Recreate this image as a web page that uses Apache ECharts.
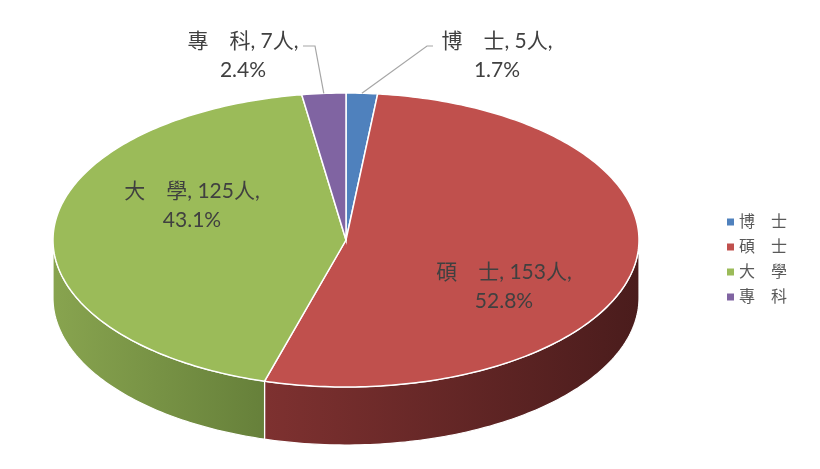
<!DOCTYPE html>
<html>
<head>
<meta charset="utf-8">
<script src="https://cdn.jsdelivr.net/npm/echarts@6/dist/echarts.min.js"></script>
<style>
    html, body { margin: 0; padding: 0; background: #fff; }
    #main { width: 820px; height: 469px; }
</style>
</head>
<body>
<div id="main"></div>
<script>
var names = ['博　士', '碩　士', '大　學', '專　科'];
var counts = [5, 153, 125, 7];
var colors = ['#4F81BD', '#C0504D', '#9BBB59', '#8064A2'];
var sideColors = [['#3F6797', '#2A4568'], ['#7E3130', '#4A1C1C'], ['#88A44F', '#66803A'], ['#66508A', '#443660']];

var total = 0;
for (var k = 0; k < counts.length; k++) total += counts[k];

// layout of the tilted pie (pixels)
var cx = 346, cy = 240, rx = 293, ry = 147, depth = 58;
// label centres, and leader start / elbow for the outside ones
var labelAt = [[497, 56], [504, 287], [192, 206], [243, 56]];
var leaderAt = [[[433, 46], [427, 46]], null, null, [[303, 46], [315, 46]]];

var font = 'Lato, "Noto Sans CJK TC", sans-serif';

function pt(a, dy) {
    return [cx + rx * Math.sin(a), cy - ry * Math.cos(a) + dy];
}

function arc(a0, a1, dy) {
    var pts = [];
    var n = Math.max(2, Math.ceil((a1 - a0) / (Math.PI / 180)));
    for (var j = 0; j <= n; j++) {
        pts.push(pt(a0 + (a1 - a0) * j / n, dy));
    }
    return pts;
}

function renderSlice(params, api) {
    var i = params.seriesIndex;
    var before = 0;
    for (var j = 0; j < i; j++) before += counts[j];
    var a0 = before / total * Math.PI * 2;
    var a1 = (before + counts[i]) / total * Math.PI * 2;
    var children = [];

    // side wall, only the front half shows
    var s0 = Math.max(a0, Math.PI / 2), s1 = Math.min(a1, Math.PI * 1.5);
    if (s1 > s0) {
        var side = arc(s0, s1, 0).concat(arc(s0, s1, depth).reverse());
        children.push({
            type: 'polygon',
            z2: 5,
            shape: { points: side },
            style: {
                fill: new echarts.graphic.LinearGradient(0, 0, 1, 0, [
                    { offset: 0, color: sideColors[i][0] },
                    { offset: 1, color: sideColors[i][1] }
                ]),
                stroke: '#fff',
                lineWidth: 1.2
            }
        });
    }

    // top face
    var top = [[cx, cy]].concat(arc(a0, a1, 0));
    children.push({
        type: 'polygon',
        z2: 10,
        shape: { points: top },
        style: { fill: colors[i], stroke: '#fff', lineWidth: 1.5 }
    });

    // leader line for outside labels
    if (leaderAt[i]) {
        var rim = pt((a0 + a1) / 2, 0);
        children.push({
            type: 'polyline',
            z2: 20,
            shape: { points: [leaderAt[i][0], leaderAt[i][1], rim] },
            style: { stroke: '#A6A6A6', lineWidth: 1.2, fill: null }
        });
    }

    var pct = (counts[i] / total * 100).toFixed(1);
    children.push({
        type: 'text',
        z2: 20,
        style: {
            x: labelAt[i][0],
            y: labelAt[i][1],
            text: names[i] + ', ' + counts[i] + '人,\n' + pct + '%',
            fill: '#404040',
            fontSize: 21,
            fontFamily: font,
            lineHeight: 29,
            align: 'center',
            verticalAlign: 'middle'
        }
    });

    return { type: 'group', children: children };
}

var series = [];
for (var s = 0; s < names.length; s++) {
    series.push({
        type: 'custom',
        name: names[s],
        coordinateSystem: 'none',
        itemStyle: { color: colors[s] },
        renderItem: renderSlice,
        data: [[counts[s]]],
        silent: true
    });
}

var myChart = echarts.init(document.getElementById('main'));
myChart.setOption({
    backgroundColor: '#fff',
    animation: false,
    legend: {
        orient: 'vertical',
        left: 722,
        top: 209,
        icon: 'rect',
        itemWidth: 7,
        itemHeight: 7,
        itemGap: 9,
        selectedMode: false,
        textStyle: { fontSize: 16, color: '#595959', fontFamily: font },
        data: names
    },
    series: series
});
</script>
</body>
</html>
